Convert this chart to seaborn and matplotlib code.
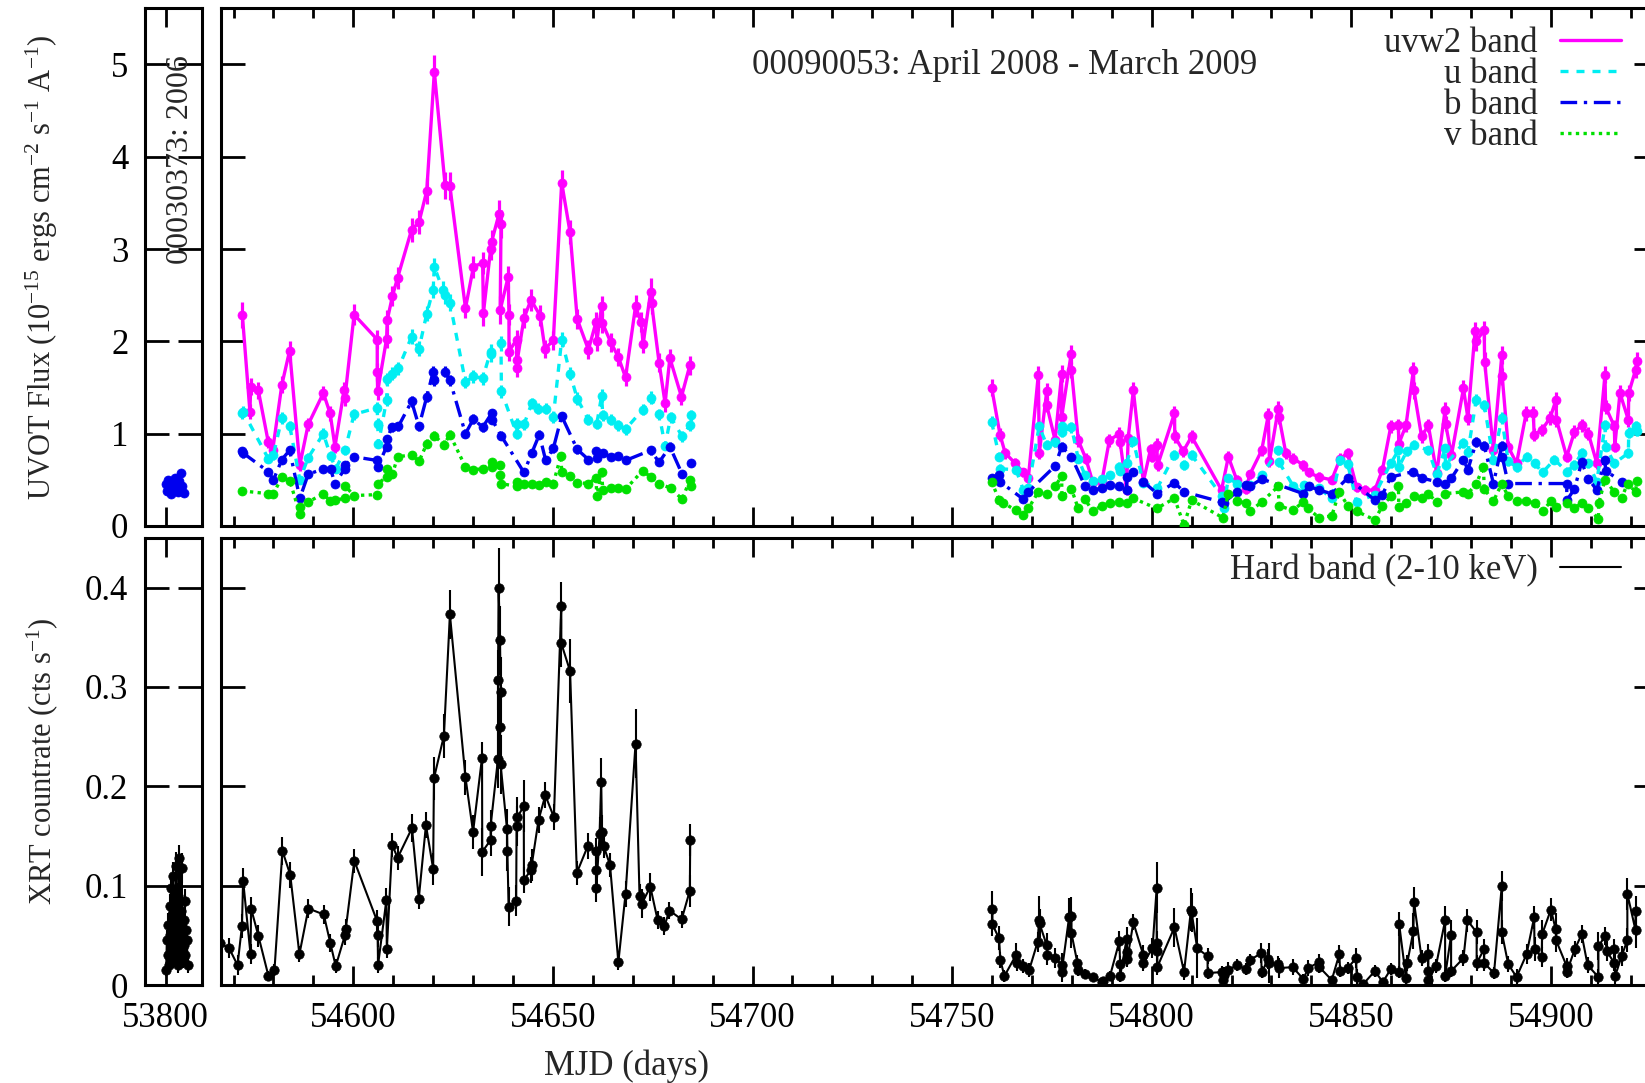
import matplotlib
matplotlib.use("Agg")
import matplotlib.pyplot as plt
import pandas as pd
import seaborn as sns
from matplotlib.lines import Line2D
from matplotlib.ticker import MultipleLocator, FuncFormatter

# ---------------------------------------------------------------- data
# UVOT light curves: (MJD, flux [1e-15 erg cm^-2 s^-1 A^-1], error)
uvw2_2008 = [
    (54572.2, 2.29, 0.14), (54574.1, 1.24, 0.08), (54574.3, 1.51, 0.09), (54576.2, 1.47, 0.09),
    (54578.7, 0.91, 0.07), (54579.8, 0.82, 0.07), (54582.1, 1.53, 0.09), (54584.05, 1.90, 0.10),
    (54586.6, 0.66, 0.06), (54588.7, 1.10, 0.07), (54592.5, 1.44, 0.08), (54594.2, 1.22, 0.08),
    (54595.4, 0.86, 0.07), (54597.7, 1.47, 0.09), (54597.9, 1.39, 0.09), (54600.2, 2.29, 0.11),
    (54606.0, 2.02, 0.10), (54606.0, 1.67, 0.10), (54606.1, 1.46, 0.09), (54608.35, 2.03, 0.10),
    (54608.5, 2.23, 0.11), (54609.8, 2.49, 0.11), (54611.1, 2.69, 0.12), (54614.6, 3.21, 0.13),
    (54616.45, 3.29, 0.13), (54618.4, 3.63, 0.14), (54620.3, 4.92, 0.18), (54623.0, 3.69, 0.15),
    (54624.2, 3.68, 0.15), (54628.1, 2.36, 0.11), (54630.1, 2.81, 0.12), (54632.4, 2.85, 0.12),
    (54632.6, 2.31, 0.14), (54634.4, 3.00, 0.12), (54634.65, 3.08, 0.13), (54636.5, 3.38, 0.15),
    (54637.0, 3.27, 0.15), (54636.8, 2.34, 0.15), (54638.8, 2.70, 0.12), (54639.0, 2.29, 0.11),
    (54639.0, 1.89, 0.10), (54640.9, 2.02, 0.10), (54640.9, 1.71, 0.10), (54641.1, 1.80, 0.10),
    (54642.75, 2.25, 0.11), (54644.5, 2.45, 0.12), (54646.8, 2.28, 0.11), (54648.0, 1.92, 0.10),
    (54650.1, 2.01, 0.10), (54652.2, 3.72, 0.14), (54654.3, 3.18, 0.13), (54656.1, 2.24, 0.11),
    (54658.9, 1.91, 0.10), (54660.8, 2.21, 0.11), (54661.0, 2.00, 0.10), (54662.2, 2.38, 0.11),
    (54662.4, 2.20, 0.11), (54664.5, 1.99, 0.10), (54666.4, 1.83, 0.10), (54668.2, 1.61, 0.09),
    (54670.7, 2.38, 0.12), (54672.1, 2.21, 0.11), (54672.6, 1.97, 0.10), (54674.5, 2.54, 0.15),
    (54674.7, 2.42, 0.12), (54676.6, 1.77, 0.10), (54678.1, 1.33, 0.09), (54679.3, 1.82, 0.10),
    (54682.2, 1.40, 0.09), (54684.3, 1.74, 0.10),
]
uvw2_2009 = [
    (54759.9, 1.50, 0.09), (54762.0, 0.99, 0.07), (54763.3, 0.79, 0.06), (54765.8, 0.68, 0.06),
    (54767.85, 0.58, 0.05), (54769.1, 0.52, 0.05), (54771.6, 1.64, 0.09), (54771.85, 0.79, 0.06),
    (54773.7, 1.46, 0.09), (54773.7, 1.31, 0.08), (54775.8, 0.93, 0.07), (54777.45, 1.65, 0.09),
    (54777.45, 1.18, 0.08), (54779.8, 1.86, 0.10), (54779.9, 1.69, 0.09), (54781.6, 0.93, 0.07),
    (54783.5, 0.73, 0.06), (54785.2, 0.48, 0.05), (54787.5, 0.48, 0.05), (54789.4, 0.93, 0.07),
    (54791.9, 1.00, 0.07), (54792.1, 0.91, 0.07), (54793.7, 0.39, 0.05), (54794.1, 0.95, 0.07),
    (54795.4, 1.47, 0.09), (54797.9, 0.48, 0.05), (54799.7, 0.83, 0.06), (54800.2, 0.75, 0.06),
    (54801.25, 0.88, 0.07), (54801.5, 0.66, 0.06), (54805.7, 1.22, 0.08), (54805.8, 0.97, 0.07),
    (54807.9, 0.81, 0.06), (54810.0, 0.97, 0.07), (54817.5, 0.39, 0.05), (54819.2, 0.75, 0.06),
    (54821.3, 0.50, 0.05), (54823.6, 0.40, 0.05), (54824.6, 0.56, 0.05), (54827.55, 0.82, 0.06),
    (54829.2, 1.20, 0.08), (54829.5, 0.70, 0.06), (54831.7, 1.27, 0.08), (54831.9, 1.18, 0.08),
    (54833.6, 0.79, 0.06), (54835.5, 0.73, 0.06), (54838.0, 0.66, 0.06), (54839.3, 0.58, 0.05),
    (54841.9, 0.53, 0.05), (54845.1, 0.50, 0.05), (54847.2, 0.73, 0.06), (54849.1, 0.79, 0.06),
    (54851.35, 0.42, 0.05), (54853.4, 0.39, 0.05), (54855.9, 0.39, 0.05), (54857.8, 0.61, 0.05),
    (54859.9, 1.08, 0.07), (54861.8, 1.09, 0.07), (54861.9, 0.89, 0.07), (54863.7, 1.09, 0.07),
    (54865.55, 1.69, 0.09), (54865.7, 1.47, 0.09), (54867.6, 0.97, 0.07), (54869.3, 1.09, 0.07),
    (54871.4, 0.57, 0.05), (54873.5, 1.26, 0.08), (54873.6, 1.11, 0.08), (54875.1, 0.77, 0.06),
    (54878.1, 1.49, 0.09), (54879.2, 1.17, 0.08), (54881.0, 2.11, 0.10), (54881.2, 2.00, 0.10),
    (54883.3, 2.12, 0.10), (54883.4, 1.78, 0.10), (54885.6, 0.82, 0.06), (54887.7, 1.85, 0.10),
    (54887.8, 1.62, 0.09), (54889.3, 0.86, 0.06), (54891.4, 0.68, 0.06), (54893.8, 1.22, 0.08),
    (54895.6, 1.22, 0.08), (54895.8, 0.99, 0.07), (54897.7, 1.04, 0.07), (54899.8, 1.17, 0.08),
    (54901.3, 1.37, 0.08), (54901.4, 1.15, 0.08), (54903.95, 0.75, 0.06), (54905.9, 1.02, 0.07),
    (54907.7, 1.09, 0.07), (54909.4, 1.00, 0.07), (54911.5, 0.68, 0.06), (54913.55, 1.64, 0.09),
    (54913.7, 1.29, 0.08), (54915.9, 1.08, 0.07), (54916.0, 0.86, 0.06), (54917.3, 1.44, 0.09),
    (54919.4, 1.15, 0.08), (54919.5, 1.44, 0.09), (54921.2, 1.69, 0.09), (54921.5, 1.79, 0.10),
]
u_2008 = [
    (54572.2, 1.22, 0.06), (54572.4, 1.24, 0.06), (54578.7, 0.73, 0.05), (54580.0, 0.77, 0.05),
    (54582.1, 1.17, 0.06), (54584.1, 1.08, 0.06), (54586.6, 0.50, 0.04), (54588.7, 0.74, 0.05),
    (54592.5, 1.00, 0.06), (54594.3, 0.76, 0.05), (54595.6, 0.62, 0.05), (54597.9, 0.82, 0.05),
    (54600.2, 1.21, 0.06), (54606.0, 1.28, 0.06), (54606.1, 1.11, 0.06), (54606.3, 0.89, 0.05),
    (54608.35, 1.37, 0.07), (54608.5, 1.59, 0.07), (54609.8, 1.65, 0.07), (54611.3, 1.71, 0.07),
    (54614.6, 2.05, 0.08), (54616.45, 1.92, 0.08), (54618.4, 2.30, 0.08), (54620.0, 2.56, 0.09),
    (54620.3, 2.81, 0.09), (54622.4, 2.56, 0.09), (54623.0, 2.50, 0.09), (54624.2, 2.42, 0.09),
    (54628.1, 1.56, 0.07), (54630.1, 1.62, 0.07), (54632.4, 1.60, 0.07), (54634.4, 1.89, 0.08),
    (54634.6, 1.86, 0.08), (54637.0, 1.98, 0.08), (54637.1, 1.46, 0.07), (54640.9, 1.00, 0.06),
    (54641.1, 1.11, 0.06), (54642.75, 1.10, 0.06), (54644.7, 1.33, 0.06), (54646.3, 1.27, 0.06),
    (54648.2, 1.27, 0.06), (54650.1, 1.18, 0.06), (54652.2, 2.02, 0.08), (54654.3, 1.65, 0.07),
    (54656.1, 1.38, 0.07), (54658.9, 1.15, 0.06), (54661.0, 1.11, 0.06), (54662.2, 1.41, 0.07),
    (54662.5, 1.20, 0.06), (54664.5, 1.15, 0.06), (54666.4, 1.09, 0.06), (54668.2, 1.05, 0.06),
    (54672.5, 1.26, 0.06), (54674.5, 1.39, 0.07), (54676.6, 1.21, 0.06), (54678.1, 0.87, 0.05),
    (54679.5, 1.18, 0.06), (54682.4, 0.97, 0.06), (54684.3, 1.09, 0.06), (54684.5, 1.20, 0.06),
]
u_2009 = [
    (54759.9, 1.13, 0.06), (54761.8, 0.75, 0.05), (54762.0, 0.62, 0.05), (54766.0, 0.61, 0.05),
    (54767.85, 0.39, 0.04), (54769.1, 0.41, 0.04), (54771.8, 1.08, 0.06), (54773.7, 0.88, 0.05),
    (54775.8, 0.91, 0.05), (54777.45, 1.08, 0.06), (54777.5, 1.02, 0.06), (54779.9, 1.07, 0.06),
    (54781.6, 0.73, 0.05), (54783.3, 0.55, 0.04), (54785.2, 0.49, 0.04), (54787.5, 0.51, 0.04),
    (54789.55, 0.55, 0.04), (54791.9, 0.64, 0.05), (54792.1, 0.60, 0.05), (54793.7, 0.68, 0.05),
    (54795.4, 0.92, 0.05), (54797.9, 0.47, 0.04), (54801.4, 0.41, 0.04), (54805.7, 0.77, 0.05),
    (54808.1, 0.66, 0.05), (54810.0, 0.77, 0.05), (54817.5, 0.33, 0.04), (54818.0, 0.19, 0.04),
    (54819.2, 0.52, 0.04), (54821.3, 0.46, 0.04), (54824.6, 0.44, 0.04), (54827.55, 0.55, 0.04),
    (54831.7, 0.82, 0.05), (54831.9, 0.69, 0.05), (54835.5, 0.43, 0.04), (54838.0, 0.36, 0.04),
    (54838.1, 0.44, 0.04), (54841.9, 0.41, 0.04), (54845.1, 0.30, 0.04), (54847.2, 0.71, 0.05),
    (54849.1, 0.67, 0.05), (54851.35, 0.26, 0.04), (54855.9, 0.34, 0.04), (54859.9, 0.68, 0.05),
    (54861.8, 0.82, 0.05), (54861.9, 0.64, 0.05), (54863.9, 0.81, 0.05), (54865.7, 0.88, 0.05),
    (54869.3, 0.82, 0.05), (54871.4, 0.56, 0.04), (54873.5, 0.84, 0.05), (54873.6, 0.66, 0.05),
    (54878.1, 0.90, 0.05), (54879.2, 0.80, 0.05), (54881.3, 1.37, 0.06), (54883.3, 1.31, 0.06),
    (54885.6, 0.72, 0.05), (54887.7, 1.17, 0.06), (54889.3, 0.70, 0.05), (54891.4, 0.64, 0.05),
    (54893.9, 0.75, 0.05), (54895.9, 0.68, 0.05), (54897.9, 0.58, 0.05), (54900.9, 0.72, 0.05),
    (54903.95, 0.59, 0.05), (54905.9, 0.66, 0.05), (54907.7, 0.79, 0.05), (54909.4, 0.68, 0.05),
    (54911.5, 0.48, 0.04), (54913.55, 1.09, 0.06), (54913.7, 0.86, 0.05), (54915.9, 0.68, 0.05),
    (54919.4, 0.79, 0.05), (54919.5, 1.01, 0.06), (54921.2, 1.08, 0.06), (54921.5, 1.03, 0.06),
]
b_2006 = [
    (53800.1, 0.45, 0.04), (53800.4, 0.38, 0.04), (53800.7, 0.50, 0.04), (53801.0, 0.42, 0.04),
    (53801.3, 0.35, 0.04), (53801.7, 0.47, 0.04), (53802.0, 0.40, 0.04), (53802.4, 0.52, 0.04),
    (53802.7, 0.44, 0.04), (53803.1, 0.37, 0.04), (53803.4, 0.49, 0.04), (53803.8, 0.57, 0.04),
    (53804.1, 0.43, 0.04), (53804.5, 0.36, 0.04),
]
b_2008 = [
    (54572.2, 0.81, 0.05), (54572.4, 0.79, 0.05), (54578.7, 0.59, 0.04), (54580.0, 0.50, 0.04),
    (54582.1, 0.72, 0.04), (54584.05, 0.82, 0.05), (54586.6, 0.30, 0.04), (54588.7, 0.56, 0.04),
    (54592.5, 0.62, 0.04), (54594.3, 0.62, 0.04), (54595.4, 0.46, 0.04), (54597.9, 0.62, 0.04),
    (54598.0, 0.66, 0.04), (54600.2, 0.75, 0.04), (54606.0, 0.71, 0.04), (54606.1, 0.64, 0.04),
    (54608.35, 0.86, 0.05), (54608.5, 0.94, 0.05), (54609.6, 1.07, 0.05), (54611.3, 1.08, 0.05),
    (54614.6, 1.35, 0.06), (54616.45, 1.08, 0.05), (54618.4, 1.40, 0.06), (54620.0, 1.67, 0.06),
    (54620.3, 1.58, 0.06), (54623.0, 1.67, 0.06), (54624.2, 1.58, 0.06), (54628.1, 1.00, 0.05),
    (54630.1, 1.16, 0.05), (54632.4, 1.07, 0.05), (54634.65, 1.22, 0.05), (54634.8, 1.15, 0.05),
    (54637.0, 0.98, 0.05), (54642.75, 0.58, 0.04), (54644.7, 0.79, 0.04), (54646.6, 0.99, 0.05),
    (54648.2, 0.71, 0.04), (54650.1, 0.84, 0.05), (54652.2, 1.19, 0.05), (54656.1, 0.83, 0.05),
    (54658.9, 0.72, 0.04), (54660.8, 0.81, 0.05), (54661.0, 0.74, 0.04), (54662.5, 0.79, 0.04),
    (54664.5, 0.75, 0.04), (54666.4, 0.76, 0.04), (54668.2, 0.71, 0.04), (54674.5, 0.82, 0.05),
    (54676.6, 0.69, 0.04), (54679.3, 0.86, 0.05), (54682.4, 0.56, 0.04), (54684.5, 0.68, 0.04),
]
b_2009 = [
    (54760.0, 0.52, 0.04), (54761.8, 0.55, 0.04), (54762.0, 0.48, 0.04), (54767.85, 0.29, 0.03),
    (54769.1, 0.37, 0.04), (54775.8, 0.65, 0.04), (54777.45, 0.86, 0.05), (54779.9, 0.75, 0.04),
    (54783.3, 0.43, 0.04), (54785.2, 0.39, 0.04), (54787.5, 0.41, 0.04), (54789.55, 0.44, 0.04),
    (54791.9, 0.43, 0.04), (54793.7, 0.39, 0.04), (54793.8, 0.53, 0.04), (54795.4, 0.59, 0.04),
    (54797.9, 0.48, 0.04), (54801.4, 0.35, 0.03), (54805.7, 0.47, 0.04), (54808.1, 0.37, 0.04),
    (54817.5, 0.26, 0.03), (54818.0, 0.25, 0.03), (54821.3, 0.37, 0.04), (54823.6, 0.44, 0.04),
    (54824.6, 0.43, 0.04), (54827.55, 0.51, 0.04), (54838.0, 0.35, 0.03), (54839.3, 0.43, 0.04),
    (54841.9, 0.39, 0.04), (54845.1, 0.35, 0.03), (54849.1, 0.52, 0.04), (54855.9, 0.28, 0.03),
    (54857.8, 0.34, 0.03), (54859.9, 0.53, 0.04), (54865.55, 0.59, 0.04), (54867.6, 0.52, 0.04),
    (54871.4, 0.48, 0.04), (54873.5, 0.46, 0.04), (54875.1, 0.52, 0.04), (54878.1, 0.72, 0.04),
    (54879.2, 0.61, 0.04), (54881.3, 0.91, 0.05), (54883.3, 0.87, 0.05), (54885.6, 0.46, 0.04),
    (54887.7, 0.87, 0.05), (54887.8, 0.75, 0.04), (54889.3, 0.46, 0.04), (54903.95, 0.46, 0.04),
    (54904.0, 0.28, 0.03), (54905.9, 0.40, 0.04), (54907.7, 0.69, 0.04), (54909.4, 0.51, 0.04),
    (54911.5, 0.39, 0.04), (54913.55, 0.72, 0.04), (54913.7, 0.60, 0.04), (54917.7, 0.48, 0.04),
]
v_2008 = [
    (54572.2, 0.38, 0.04), (54578.7, 0.35, 0.04), (54580.0, 0.35, 0.04), (54582.1, 0.53, 0.04),
    (54584.1, 0.49, 0.04), (54586.6, 0.13, 0.04), (54586.7, 0.21, 0.04), (54588.7, 0.26, 0.04),
    (54592.5, 0.35, 0.04), (54594.2, 0.27, 0.04), (54595.4, 0.28, 0.04), (54597.9, 0.30, 0.04),
    (54598.0, 0.43, 0.04), (54600.2, 0.33, 0.04), (54606.0, 0.34, 0.04), (54606.1, 0.46, 0.04),
    (54608.35, 0.53, 0.04), (54608.5, 0.62, 0.04), (54609.8, 0.56, 0.04), (54611.1, 0.75, 0.04),
    (54614.6, 0.77, 0.04), (54616.45, 0.70, 0.04), (54618.4, 0.89, 0.05), (54620.3, 0.98, 0.05),
    (54622.7, 0.88, 0.05), (54624.2, 0.99, 0.05), (54628.1, 0.64, 0.04), (54630.1, 0.61, 0.04),
    (54632.4, 0.62, 0.04), (54634.65, 0.69, 0.04), (54634.8, 0.64, 0.04), (54636.75, 0.66, 0.04),
    (54636.8, 0.55, 0.04), (54636.9, 0.46, 0.04), (54640.9, 0.43, 0.04), (54641.1, 0.48, 0.04),
    (54642.75, 0.46, 0.04), (54644.7, 0.46, 0.04), (54646.6, 0.44, 0.04), (54648.2, 0.48, 0.04),
    (54650.1, 0.46, 0.04), (54652.0, 0.76, 0.04), (54652.2, 0.59, 0.04), (54654.3, 0.54, 0.04),
    (54656.1, 0.47, 0.04), (54658.9, 0.46, 0.04), (54660.8, 0.52, 0.04), (54661.0, 0.32, 0.04),
    (54662.2, 0.59, 0.04), (54662.5, 0.39, 0.04), (54664.5, 0.41, 0.04), (54666.4, 0.41, 0.04),
    (54668.2, 0.40, 0.04), (54672.5, 0.60, 0.04), (54674.5, 0.53, 0.04), (54676.6, 0.46, 0.04),
    (54679.5, 0.41, 0.04), (54682.4, 0.29, 0.04), (54684.3, 0.50, 0.04), (54684.5, 0.43, 0.04),
]
v_2009 = [
    (54759.9, 0.48, 0.04), (54761.8, 0.28, 0.04), (54762.8, 0.25, 0.04), (54766.0, 0.17, 0.04),
    (54767.85, 0.12, 0.04), (54769.1, 0.19, 0.04), (54771.6, 0.37, 0.04), (54773.7, 0.35, 0.04),
    (54775.8, 0.43, 0.04), (54777.45, 0.54, 0.04), (54777.5, 0.32, 0.04), (54779.9, 0.40, 0.04),
    (54781.6, 0.19, 0.04), (54783.3, 0.29, 0.04), (54785.2, 0.16, 0.04), (54787.5, 0.22, 0.04),
    (54789.55, 0.25, 0.04), (54791.9, 0.26, 0.04), (54793.7, 0.25, 0.04), (54795.4, 0.30, 0.04),
    (54801.25, 0.19, 0.04), (54805.7, 0.30, 0.04), (54808.1, 0.01, 0.04), (54810.0, 0.28, 0.04),
    (54817.8, 0.09, 0.04), (54819.2, 0.35, 0.04), (54821.3, 0.27, 0.04), (54823.6, 0.25, 0.04),
    (54824.6, 0.16, 0.04), (54827.55, 0.26, 0.04), (54831.7, 0.43, 0.04), (54831.9, 0.22, 0.04),
    (54835.3, 0.17, 0.04), (54838.0, 0.26, 0.04), (54839.2, 0.19, 0.04), (54841.9, 0.09, 0.04),
    (54845.1, 0.11, 0.04), (54847.0, 0.37, 0.04), (54849.1, 0.22, 0.04), (54851.35, 0.16, 0.04),
    (54855.9, 0.065, 0.04), (54857.8, 0.22, 0.04), (54859.9, 0.32, 0.04), (54861.8, 0.43, 0.04),
    (54861.9, 0.21, 0.04), (54863.7, 0.25, 0.04), (54865.7, 0.32, 0.04), (54867.6, 0.30, 0.04),
    (54869.3, 0.35, 0.04), (54871.4, 0.26, 0.04), (54873.5, 0.35, 0.04), (54878.1, 0.37, 0.04),
    (54879.2, 0.35, 0.04), (54881.3, 0.46, 0.04), (54883.1, 0.64, 0.04), (54883.3, 0.40, 0.04),
    (54885.6, 0.27, 0.04), (54887.7, 0.46, 0.04), (54889.3, 0.32, 0.04), (54891.4, 0.27, 0.04),
    (54893.8, 0.27, 0.04), (54895.9, 0.25, 0.04), (54897.9, 0.16, 0.04), (54900.0, 0.27, 0.04),
    (54901.3, 0.21, 0.04), (54903.95, 0.25, 0.04), (54905.9, 0.19, 0.04), (54907.7, 0.25, 0.04),
    (54909.4, 0.19, 0.04), (54911.9, 0.08, 0.04), (54912.0, 0.25, 0.04), (54913.55, 0.50, 0.04),
    (54915.9, 0.37, 0.04), (54917.7, 0.30, 0.04), (54919.2, 0.46, 0.04), (54921.2, 0.37, 0.04),
    (54921.5, 0.49, 0.04),
]

# XRT hard band (2-10 keV): (MJD, count rate [cts/s], error)
xrt_2006 = [
    (53800.1, 0.015, 0.006), (53800.3, 0.045, 0.010), (53800.5, 0.030, 0.008), (53800.7, 0.060, 0.012),
    (53800.9, 0.020, 0.008), (53801.0, 0.080, 0.012), (53801.2, 0.050, 0.010), (53801.3, 0.098, 0.012),
    (53801.5, 0.035, 0.009), (53801.6, 0.070, 0.011), (53801.8, 0.025, 0.008), (53801.9, 0.110, 0.014),
    (53802.1, 0.040, 0.010), (53802.2, 0.085, 0.012), (53802.4, 0.030, 0.009), (53802.5, 0.065, 0.011),
    (53802.7, 0.120, 0.014), (53802.8, 0.055, 0.010), (53803.0, 0.020, 0.008), (53803.1, 0.090, 0.013),
    (53803.3, 0.045, 0.010), (53803.4, 0.128, 0.013), (53803.6, 0.060, 0.011), (53803.7, 0.030, 0.009),
    (53803.9, 0.075, 0.012), (53804.0, 0.118, 0.015), (53804.2, 0.050, 0.010), (53804.3, 0.025, 0.008),
    (53804.5, 0.065, 0.011), (53804.6, 0.040, 0.010), (53804.8, 0.085, 0.012), (53804.9, 0.030, 0.009),
    (53805.1, 0.055, 0.010), (53805.3, 0.045, 0.010), (53805.5, 0.020, 0.008),
]
xrt_2008 = [
    (54566.6, 0.042, 0.010), (54568.9, 0.037, 0.010), (54571.0, 0.020, 0.010), (54572.1, 0.059, 0.012),
    (54572.4, 0.105, 0.013), (54574.25, 0.031, 0.010), (54574.4, 0.077, 0.012), (54576.25, 0.049, 0.011),
    (54578.75, 0.009, 0.005), (54580.25, 0.015, 0.006), (54582.25, 0.135, 0.014), (54584.2, 0.111, 0.013),
    (54586.5, 0.031, 0.008), (54588.75, 0.077, 0.010), (54592.6, 0.071, 0.010), (54594.25, 0.042, 0.009),
    (54595.6, 0.019, 0.007), (54597.9, 0.050, 0.010), (54598.1, 0.056, 0.010), (54600.25, 0.125, 0.012),
    (54606.0, 0.064, 0.012), (54606.1, 0.050, 0.012), (54606.2, 0.020, 0.008), (54608.3, 0.086, 0.012),
    (54608.4, 0.036, 0.009), (54609.75, 0.141, 0.012), (54611.1, 0.128, 0.012), (54614.7, 0.158, 0.014),
    (54616.4, 0.087, 0.010), (54618.2, 0.161, 0.013), (54620.0, 0.117, 0.016), (54620.2, 0.208, 0.022),
    (54622.7, 0.251, 0.022), (54624.2, 0.373, 0.025), (54628.1, 0.209, 0.018), (54630.0, 0.154, 0.017),
    (54632.25, 0.229, 0.016), (54632.3, 0.134, 0.024), (54634.4, 0.146, 0.016), (54634.4, 0.160, 0.016),
    (54636.25, 0.228, 0.030), (54636.25, 0.307, 0.030), (54636.4, 0.400, 0.040), (54636.75, 0.347, 0.035),
    (54636.9, 0.295, 0.035), (54636.75, 0.260, 0.035), (54636.9, 0.222, 0.030), (54638.5, 0.157, 0.020),
    (54638.6, 0.135, 0.020), (54638.9, 0.079, 0.020), (54640.8, 0.085, 0.016), (54640.9, 0.160, 0.020),
    (54641.1, 0.169, 0.020), (54642.7, 0.180, 0.026), (54642.75, 0.106, 0.013), (54644.6, 0.116, 0.013),
    (54644.7, 0.121, 0.016), (54646.4, 0.166, 0.013), (54648.1, 0.191, 0.013), (54650.25, 0.169, 0.013),
    (54652.1, 0.382, 0.024), (54652.1, 0.344, 0.024), (54654.3, 0.316, 0.032), (54656.0, 0.113, 0.012),
    (54658.75, 0.140, 0.013), (54660.8, 0.135, 0.013), (54660.9, 0.116, 0.013), (54660.9, 0.098, 0.014),
    (54661.7, 0.152, 0.017), (54662.1, 0.204, 0.025), (54662.3, 0.154, 0.017), (54662.7, 0.140, 0.012),
    (54664.3, 0.121, 0.012), (54666.4, 0.023, 0.008), (54668.2, 0.092, 0.013), (54670.7, 0.243, 0.035),
    (54671.7, 0.090, 0.012), (54672.3, 0.082, 0.015), (54674.4, 0.099, 0.014), (54676.25, 0.065, 0.009),
    (54677.9, 0.059, 0.009), (54679.2, 0.075, 0.009), (54682.25, 0.066, 0.009), (54684.3, 0.095, 0.016),
    (54684.4, 0.146, 0.016),
]
xrt_2009 = [
    (54760.1, 0.077, 0.018), (54760.1, 0.061, 0.012), (54761.75, 0.047, 0.012), (54762.1, 0.025, 0.008),
    (54763.1, 0.009, 0.006), (54766.0, 0.030, 0.012), (54766.2, 0.022, 0.008), (54767.85, 0.019, 0.007),
    (54769.3, 0.015, 0.007), (54771.4, 0.043, 0.010), (54771.8, 0.065, 0.025), (54771.9, 0.062, 0.015),
    (54773.7, 0.040, 0.012), (54773.7, 0.030, 0.010), (54775.8, 0.027, 0.010), (54777.45, 0.020, 0.012),
    (54777.45, 0.013, 0.010), (54779.3, 0.068, 0.020), (54779.9, 0.069, 0.020), (54779.9, 0.052, 0.015),
    (54781.4, 0.022, 0.008), (54781.5, 0.015, 0.006), (54783.4, 0.011, 0.005), (54785.2, 0.008, 0.004),
    (54787.5, 0.003, 0.003), (54787.7, 0.004, 0.003), (54789.55, 0.009, 0.005), (54791.9, 0.044, 0.010),
    (54792.1, 0.021, 0.008), (54792.1, 0.009, 0.006), (54793.7, 0.046, 0.012), (54793.7, 0.033, 0.010),
    (54793.9, 0.026, 0.008), (54795.4, 0.063, 0.008), (54797.9, 0.030, 0.010), (54797.9, 0.022, 0.008),
    (54800.2, 0.037, 0.010), (54801.25, 0.098, 0.026), (54801.25, 0.042, 0.012), (54801.4, 0.034, 0.010),
    (54801.4, 0.018, 0.008), (54805.7, 0.058, 0.020), (54808.1, 0.013, 0.008), (54809.85, 0.076, 0.022),
    (54810.0, 0.073, 0.020), (54811.4, 0.037, 0.030), (54814.0, 0.029, 0.008), (54814.0, 0.012, 0.006),
    (54817.5, 0.013, 0.006), (54817.95, 0.005, 0.010), (54818.1, 0.010, 0.008), (54819.2, 0.015, 0.008),
    (54821.3, 0.020, 0.006), (54823.6, 0.016, 0.006), (54824.6, 0.025, 0.006), (54827.4, 0.032, 0.010),
    (54827.55, 0.013, 0.006), (54829.2, 0.026, 0.010), (54829.5, 0.022, 0.020), (54831.7, 0.021, 0.008),
    (54831.9, 0.017, 0.010), (54835.3, 0.018, 0.008), (54838.0, 0.006, 0.005), (54839.2, 0.017, 0.008),
    (54841.9, 0.023, 0.008), (54842.0, 0.018, 0.006), (54845.1, 0.005, 0.004), (54847.0, 0.031, 0.009),
    (54847.2, 0.014, 0.006), (54849.1, 0.017, 0.006), (54851.2, 0.027, 0.010), (54851.35, 0.008, 0.008),
    (54853.0, 0.001, 0.004), (54855.9, 0.014, 0.006), (54857.9, 0.003, 0.004), (54859.9, 0.016, 0.006),
    (54862.0, 0.013, 0.006), (54862.0, 0.061, 0.012), (54863.7, 0.007, 0.006), (54864.0, 0.022, 0.008),
    (54865.55, 0.054, 0.018), (54865.7, 0.084, 0.015), (54867.6, 0.027, 0.008), (54869.3, 0.031, 0.010),
    (54869.3, 0.014, 0.008), (54869.3, 0.005, 0.005), (54871.2, 0.019, 0.007), (54873.5, 0.065, 0.015),
    (54873.5, 0.009, 0.006), (54875.0, 0.050, 0.015), (54875.0, 0.014, 0.006), (54878.1, 0.027, 0.008),
    (54879.1, 0.065, 0.012), (54881.4, 0.053, 0.012), (54881.4, 0.022, 0.008), (54883.25, 0.036, 0.010),
    (54883.3, 0.022, 0.008), (54885.75, 0.012, 0.006), (54887.7, 0.100, 0.015), (54887.7, 0.053, 0.012),
    (54889.3, 0.021, 0.008), (54891.4, 0.008, 0.008), (54893.9, 0.031, 0.010), (54895.8, 0.068, 0.012),
    (54895.9, 0.036, 0.012), (54897.7, 0.028, 0.010), (54897.8, 0.051, 0.014), (54900.0, 0.076, 0.012),
    (54901.2, 0.056, 0.016), (54901.3, 0.045, 0.012), (54903.95, 0.019, 0.008), (54903.95, 0.013, 0.006),
    (54906.0, 0.036, 0.008), (54907.7, 0.051, 0.009), (54909.2, 0.020, 0.008), (54911.9, 0.008, 0.008),
    (54911.9, 0.039, 0.014), (54913.55, 0.049, 0.009), (54914.0, 0.034, 0.010), (54915.9, 0.022, 0.008),
    (54915.9, 0.036, 0.010), (54916.1, 0.009, 0.008), (54917.7, 0.029, 0.010), (54919.15, 0.045, 0.012),
    (54919.15, 0.092, 0.016), (54921.2, 0.055, 0.018), (54921.2, 0.075, 0.015),
]

band_labels = ["uvw2 band", "u band", "b band", "v band"]
xrt_label = "Hard band (2-10 keV)"
title_main = "00090053: April 2008 - March 2009"
title_2006 = "00030373: 2006"

# ---------------------------------------------------------------- style
sns.set_theme(style="ticks")
plt.rcParams.update({
    "font.size": 25,
    "axes.linewidth": 2.2,
    "mathtext.fontset": "custom",
    "mathtext.rm": "Liberation Serif",
    "mathtext.it": "Liberation Serif:italic",
    "mathtext.default": "regular",
    "axes.unicode_minus": False,
})
plt.rcParams["font.family"] = ["Liberation Serif", "DejaVu Serif"]

FS = 25        # horizontal text
FS_V = 22      # rotated text

MAGENTA, CYAN, BLUE, GREEN = "#ff00ff", "#00eef2", "#0000ee", "#00e000"
styles = {
    "uvw2": dict(color=MAGENTA, linestyle="-"),
    "u": dict(color=CYAN, linestyle=(0, (2.4, 2.4))),
    "b": dict(color=BLUE, linestyle=(0, (5.0, 2.0, 1.0, 2.0))),
    "v": dict(color=GREEN, linestyle=(0, (1.0, 1.3))),
}

fig = plt.figure(figsize=(16.45, 10.83), dpi=100)
W, H = 1645.0, 1083.0


def box(x0, x1, y0, y1):
    return [x0 / W, 1 - y1 / H, (x1 - x0) / W, (y1 - y0) / H]


ax_ul = fig.add_axes(box(145, 202, 8, 526))
ax_ur = fig.add_axes(box(221, 1658, 8, 526))
ax_ll = fig.add_axes(box(145, 202, 538, 985))
ax_lr = fig.add_axes(box(221, 1658, 538, 985))


def draw(ax, rows, color, linestyle, lw, ms, elw):
    df = pd.DataFrame(rows, columns=["mjd", "val", "err"])
    ax.errorbar(df["mjd"], df["val"], yerr=df["err"], fmt="none",
                ecolor=color, elinewidth=elw, capsize=0, zorder=2)
    sns.lineplot(data=df, x="mjd", y="val", ax=ax, sort=False, estimator=None,
                 color=color, linestyle=linestyle, linewidth=lw,
                 marker="o", markersize=ms, markeredgecolor=color,
                 markeredgewidth=0.5, legend=False, zorder=3)


uv_sets = [("uvw2", [uvw2_2008, uvw2_2009]), ("u", [u_2008, u_2009]),
           ("b", [b_2008, b_2009]), ("v", [v_2008, v_2009])]
for key, blocks in uv_sets:
    for rows in blocks:
        draw(ax_ur, rows, lw=2.4, ms=6.5, elw=2.3, **styles[key])
draw(ax_ul, b_2006, lw=2.4, ms=6.5, elw=2.3, **styles["b"])

for rows in (xrt_2008, xrt_2009):
    draw(ax_lr, rows, color="black", linestyle="-", lw=1.5, ms=6.8, elw=1.5)
draw(ax_ll, xrt_2006, color="black", linestyle="-", lw=1.5, ms=6.8, elw=1.5)

# ---------------------------------------------------------------- axes
ppd = 3.992  # pixels per day on both time axes
for ax in (ax_ul, ax_ll):
    ax.set_xlim(53800 - 20.7 / ppd, 53800 + 36.3 / ppd)
for ax in (ax_ur, ax_lr):
    ax.set_xlim(54600 - 132.3 / ppd, 54600 + 1304.7 / ppd)
for ax in (ax_ul, ax_ur):
    ax.set_ylim(0, 5.612)
    ax.yaxis.set_major_locator(MultipleLocator(1))
for ax in (ax_ll, ax_lr):
    ax.set_ylim(0, 0.450)
    ax.yaxis.set_major_locator(MultipleLocator(0.1))
    ax.yaxis.set_major_formatter(FuncFormatter(lambda v, p: "0" if abs(v) < 1e-9 else f"{v:.1f}"))

for ax in (ax_ul, ax_ur, ax_ll, ax_lr):
    ax.set_xlabel("")
    ax.set_ylabel("")
    ax.xaxis.set_major_locator(MultipleLocator(50))
    ax.xaxis.set_minor_locator(MultipleLocator(10))
    ax.xaxis.set_major_formatter(FuncFormatter(lambda v, p: f"{v:.0f}"))
    ax.tick_params(which="both", direction="in", top=True, right=True,
                   width=2.0, color="black", labelsize=FS, labelcolor="black")
    ax.tick_params(axis="x", which="major", length=14, pad=12)
    ax.tick_params(axis="x", which="minor", length=7)
    ax.tick_params(axis="y", which="major", length=17, pad=12)
    for s in ax.spines.values():
        s.set_visible(True)
        s.set_linewidth(2.2)
        s.set_color("black")
    ax.set_facecolor("white")

for ax in (ax_ul, ax_ur):
    ax.tick_params(axis="x", labelbottom=False)
for ax in (ax_ur, ax_lr):
    ax.tick_params(axis="y", labelleft=False)

# ---------------------------------------------------------------- legends and text
uv_handles = [Line2D([], [], lw=2.4, **styles[k]) for k in ("uvw2", "u", "b", "v")]
leg = ax_ur.legend(uv_handles, band_labels, loc="upper right", markerfirst=False,
                   frameon=False, fontsize=FS, handlelength=1.75, handletextpad=0.65,
                   labelspacing=-0.06, borderpad=0, borderaxespad=0,
                   bbox_to_anchor=(1621 / W, 1 - 27 / H), bbox_transform=fig.transFigure)
leg2 = ax_lr.legend([Line2D([], [], color="black", lw=1.5)], [xrt_label], loc="upper right",
                    markerfirst=False, frameon=False, fontsize=FS, handlelength=1.75,
                    handletextpad=0.65, borderpad=0, borderaxespad=0,
                    bbox_to_anchor=(1621 / W, 1 - 554 / H), bbox_transform=fig.transFigure)

fig.text(1005 / W, 1 - 65 / H, title_main, ha="center", va="center", fontsize=FS)
fig.text(181 / W, 1 - 160 / H, title_2006, ha="center", va="center", rotation=90, fontsize=23)
fig.text(42 / W, 1 - 267 / H,
         "UVOT Flux (10$^{-15}$ ergs cm$^{-2}$ s$^{-1}$ A$^{-1}$)",
         ha="center", va="center", rotation=90, fontsize=FS_V)
fig.text(42 / W, 1 - 761 / H, "XRT countrate (cts s$^{-1}$)",
         ha="center", va="center", rotation=90, fontsize=FS_V)
fig.text(627 / W, 1 - 1066 / H, "MJD (days)", ha="center", va="center", fontsize=FS)

fig.savefig("out.png", dpi=100, facecolor="white")
